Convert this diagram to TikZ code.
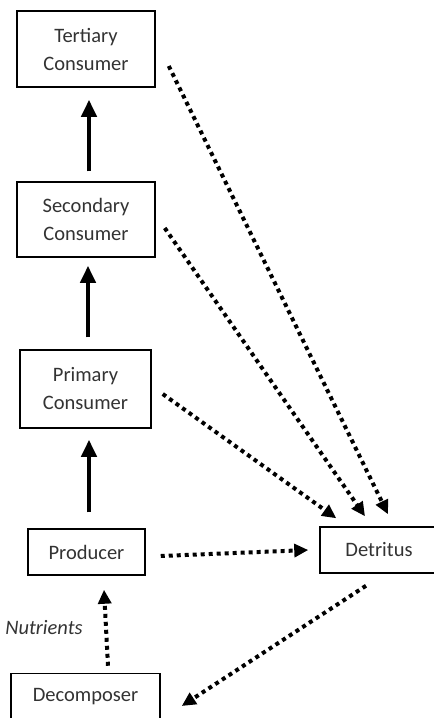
\documentclass[tikz,border=0pt]{standalone}
\usepackage{fontspec}
\setmainfont{Carlito}
\usetikzlibrary{arrows.meta}
\begin{document}
\begin{tikzpicture}[x=1pt,y=-1pt,
  box/.style={draw,line width=1.5pt,align=center,inner sep=0pt,font=\fontsize{20.5}{28}\selectfont,text=black!80},
  solidarrow/.style={line width=4pt,-{Triangle[length=17pt,width=15pt]}},
  dotarrow/.style={line width=4pt,dash pattern=on 4pt off 4pt,-{Triangle[length=14pt,width=13pt]}}]
\clip (0,0) rectangle (434,718);
\fill[white] (0,0) rectangle (434,718);
\node[box,minimum width=138pt,minimum height=76pt] (tert) at (86,49) {Tertiary\\Consumer};
\node[box,minimum width=138pt,minimum height=75pt] (sec) at (86,219.5) {Secondary\\Consumer};
\node[box,minimum width=131pt,minimum height=78pt] (prim) at (85.5,389) {Primary\\Consumer};
\node[box,minimum width=117pt,minimum height=46pt] (prod) at (86.5,552) {Producer};
\node[box,minimum width=128pt,minimum height=46pt] (det) at (384,550) {\hspace*{-10pt}Detritus};
\node[box,minimum width=149pt,minimum height=46pt] (decomp) at (85.5,696.5) {Decomposer};
\node[font=\fontsize{20.5}{28}\selectfont\itshape,text=black!80] (nut) at (44,628) {Nutrients};
% solid arrows
\draw[solidarrow] ([shift={(3,-10)}]sec.north) -- ([shift={(3,12)}]tert.south);
\draw[solidarrow] ([shift={(2.5,-12)}]prim.north) -- ([shift={(2,8)}]sec.south);
\draw[solidarrow] ([shift={(2.5,-16)}]prod.north) -- ([shift={(3.5,11)}]prim.south);
% dotted arrows
\draw[dotarrow] ([shift={(13,17)}]tert.east) -- ([shift={(4,-12)}]det.north);
\draw[dotarrow] ([shift={(9,8.5)}]sec.east) -- ([shift={(-19,-10)}]det.north);
\draw[dotarrow] ([shift={(11,5)}]prim.east) -- ([shift={(17,-8)}]det.north west);
\draw[dotarrow] ([shift={(15,4)}]prod.east) -- ([shift={(-11,0)}]det.west);
\draw[dotarrow] ([shift={(-18,12)}]det.south) -- ([shift={(21,9.5)}]decomp.east);
\draw[dotarrow] ([shift={(22.5,-7)}]decomp.north) -- ([shift={(17.5,14)}]prod.south);
\end{tikzpicture}
\end{document}
